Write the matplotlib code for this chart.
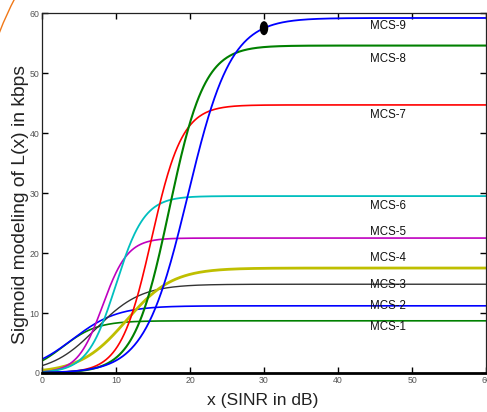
import numpy as np
import matplotlib
matplotlib.use("Agg")
import matplotlib.pyplot as plt
from matplotlib.patches import Ellipse, Arc

# Sigmoid parameters per MCS: L(x) = Lmax / (1 + exp(-k (x - c)))
mcs_names = ["MCS-1", "MCS-2", "MCS-3", "MCS-4", "MCS-5", "MCS-6", "MCS-7", "MCS-8", "MCS-9"]
lmax = [8.7, 11.2, 14.8, 17.5, 22.5, 29.5, 44.7, 54.6, 59.2]
steep = [0.43, 0.33, 0.33, 0.32, 0.59, 0.52, 0.48, 0.42, 0.342]
center = [2.8, 4.1, 7.3, 11.4, 8.2, 10.0, 14.8, 17.2, 19.7]
colors = ["#008000", "#0000ff", "#333333", "#bfbf00", "#bf00bf", "#00bfbf", "#ff0000", "#008000", "#0000ff"]
widths = [1.2, 1.2, 1.0, 2.0, 1.2, 1.3, 1.2, 1.5, 1.3]
label_y = [7.7, 11.2, 14.7, 19.2, 23.5, 27.8, 43.0, 52.3, 57.8]

marker_x = 30
marker_y = 57.5

x = np.linspace(0, 60, 601)

fig = plt.figure(figsize=(4.87, 4.12), dpi=100)
ax = fig.add_axes([0.0862, 0.0947, 0.9118, 0.8733])

for name, L, k, c, col, lw in zip(mcs_names, lmax, steep, center, colors, widths):
    ax.plot(x, L / (1 + np.exp(-k * (x - c))), color=col, lw=lw)

for name, ly in zip(mcs_names, label_y):
    ax.text(46.8, ly, name, ha="center", va="center", fontsize=8.3,
            family="Liberation Sans", color="#111111")

ax.add_patch(Ellipse((marker_x, marker_y), 0.95, 2.1, color="black", zorder=5))

ax.set_xlim(0, 60)
ax.set_ylim(0, 60)
ax.set_xticks([0, 10, 20, 30, 40, 50, 60])
ax.set_yticks([0, 10, 20, 30, 40, 50, 60])
ax.tick_params(direction="in", top=True, right=True, length=4, width=1,
               labelsize=6.3, labelcolor="#555555", pad=2)
for lab in ax.get_xticklabels() + ax.get_yticklabels():
    lab.set_family("Liberation Sans")
for s in ax.spines.values():
    s.set_linewidth(0.9)
    s.set_color("#222222")
ax.spines["bottom"].set_linewidth(2.0)
ax.spines["bottom"].set_color("black")

ax.set_xlabel("x (SINR in dB)", fontsize=12.6, family="Liberation Sans", color="#222222")
ax.set_ylabel("Sigmoid modeling of L(x) in kbps", fontsize=13.9, family="Liberation Sans",
              color="#222222")
ax.xaxis.set_label_coords(0.497, -0.055)
ax.yaxis.set_label_coords(-0.03, 0.469)

# decorative orange arc at the top-left corner
fig.add_artist(Arc((300 / 487, 1 - 148 / 412), 644 / 487, 644 / 412, theta1=148, theta2=163,
                   color="#f07818", lw=1.0, transform=fig.transFigure))

fig.savefig("out.png", dpi=100)
